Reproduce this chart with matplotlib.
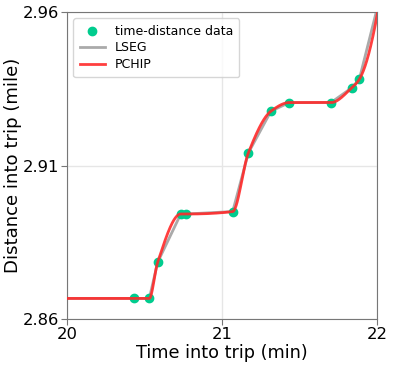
import numpy as np
import matplotlib
matplotlib.use('Agg')
import matplotlib.pyplot as plt

# time-distance samples (min, mile)
t_data = [19.90, 20.432, 20.531, 20.585, 20.734, 20.768, 21.069,
          21.170, 21.316, 21.434, 21.703, 21.837, 21.886, 22.025]
d_data = [2.8667, 2.8667, 2.8667, 2.8785, 2.8942, 2.8942, 2.8950,
          2.9141, 2.9277, 2.9305, 2.9305, 2.9353, 2.9381, 2.9660]

x_ticks = [20, 21, 22]
y_ticks = [2.86, 2.91, 2.96]


def pchip(x, y, xq):
    x = np.asarray(x, float); y = np.asarray(y, float)
    h = np.diff(x)
    delta = np.diff(y) / h
    n = len(x)
    d = np.zeros(n)
    for k in range(1, n - 1):
        if delta[k-1] * delta[k] > 0:
            w1 = 2 * h[k] + h[k-1]
            w2 = h[k] + 2 * h[k-1]
            d[k] = (w1 + w2) / (w1 / delta[k-1] + w2 / delta[k])
    # end slopes
    def end(h0, h1, m0, m1):
        dd = ((2 * h0 + h1) * m0 - h0 * m1) / (h0 + h1)
        if np.sign(dd) != np.sign(m0):
            dd = 0.0
        elif np.sign(m0) != np.sign(m1) and abs(dd) > abs(3 * m0):
            dd = 3 * m0
        return dd
    d[0] = end(h[0], h[1], delta[0], delta[1])
    d[-1] = end(h[-1], h[-2], delta[-1], delta[-2])
    idx = np.clip(np.searchsorted(x, xq) - 1, 0, n - 2)
    hk = h[idx]
    s = (xq - x[idx]) / hk
    h00 = 2*s**3 - 3*s**2 + 1
    h10 = s**3 - 2*s**2 + s
    h01 = -2*s**3 + 3*s**2
    h11 = s**3 - s**2
    return h00*y[idx] + h10*hk*d[idx] + h01*y[idx+1] + h11*hk*d[idx+1]


fig = plt.figure(figsize=(3.93, 3.66), dpi=100)
ax = fig.add_axes([0.1705, 0.1284, 0.7888, 0.8388])

tq = np.linspace(t_data[0], t_data[-1], 1000)
ax.scatter(t_data, d_data, s=36, c='#00cc8e', zorder=3, label='time-distance data')
ax.plot(t_data, d_data, c='#aaaaaa', lw=2, zorder=2, label='LSEG')
ax.plot(tq, pchip(t_data, d_data, tq), c='#ff2a2a', lw=2, alpha=0.9, zorder=4, label='PCHIP')

ax.set_xlim(20, 22)
ax.set_ylim(2.86, 2.96)
ax.set_xticks(x_ticks)
ax.set_yticks(y_ticks)
ax.set_xticklabels([str(v) for v in x_ticks])
ax.set_yticklabels(['%.2f' % v for v in y_ticks])
ax.tick_params(labelsize=11.8, color='#777777', length=4, pad=2)
ax.grid(True, color='#e6e6e6', lw=1)
ax.set_axisbelow(True)
for sp in ax.spines.values():
    sp.set_color('#777777')

ax.set_xlabel('Time into trip (min)', fontsize=12.7, labelpad=1)
ax.set_ylabel('Distance into trip (mile)', fontsize=13.1, labelpad=0)
ax.legend(loc='upper left', fontsize=9, handlelength=2.0, borderpad=0.5,
          labelspacing=0.3, scatterpoints=1)

fig.savefig('out.png', dpi=100)
